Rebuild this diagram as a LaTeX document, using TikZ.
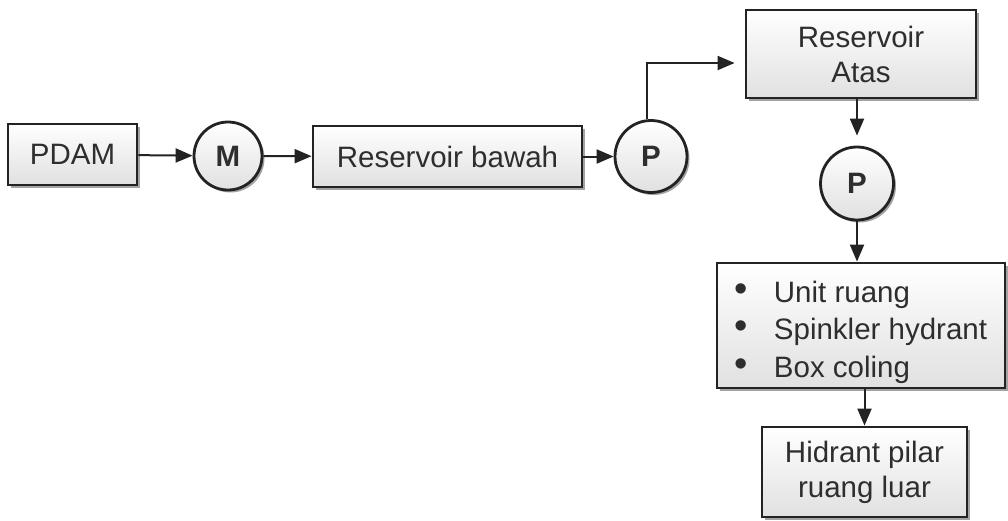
\documentclass[tikz,border=0pt]{standalone}
\usepackage{fontspec}
\setmainfont{Liberation Sans}
\usetikzlibrary{arrows.meta,shadows,positioning}
\definecolor{linec}{HTML}{232323}
\definecolor{textc}{HTML}{2E2E2E}
\tikzset{
  box/.style={draw=linec, line width=2.8pt, top color=white, bottom color=black!12,
    drop shadow={shadow xshift=2.5pt, shadow yshift=-2.5pt, fill=black!45, opacity=0.8},
    text=textc, font=\fontsize{29.5}{35}\selectfont, align=center, inner sep=0pt},
  pump/.style={circle, draw=linec, line width=2.8pt, top color=white, bottom color=black!12,
    drop shadow={shadow xshift=2.5pt, shadow yshift=-2.5pt, fill=black!45, opacity=0.8},
    text=textc, font=\fontsize{29.5}{35}\selectfont\bfseries, inner sep=0pt},
  plain/.style={text=textc, inner sep=0pt},
  arr/.style={draw=linec, line width=2pt, -{Triangle[length=17pt,width=14pt]}}
}
\newcommand{\bul}{\makebox[39pt][l]{\raisebox{1pt}{\fontsize{38}{37.5}\selectfont\textbullet}}}
\begin{document}
\begin{tikzpicture}[x=1pt,y=-1pt]
\useasboundingbox[fill=white] (0,0) rectangle (1008,520);
\node[box, minimum width=129pt, minimum height=61pt] (pdam) at (72.5,154.5) {PDAM};
\node[pump, minimum size=68pt] (m) at (228,156) {M};
\node[box, minimum width=269pt, minimum height=61pt] (rb) at (447.5,156.5) {Reservoir bawah};
\node[pump, minimum size=72pt] (p1) at (651,156.5) {P};
\node[box, minimum width=230pt, minimum height=88pt] (ra) at (861,54) {Reservoir\\Atas};
\node[pump, minimum size=73pt] (p2) at (857,183.5) {P};
\node[box, minimum width=288pt, minimum height=125pt] (bul) at (861,325.5) {};
\node[plain, align=left, font=\fontsize{29.5}{37.5}\selectfont] (bultxt) at ([yshift=-6.5pt]bul.center)
  {\bul Unit ruang\\\bul Spinkler hydrant\\\bul Box coling};
\node[box, minimum width=205pt, minimum height=90pt] (hid) at (864.5,472) {\raisebox{-3pt}{\parbox{200pt}{\centering Hidrant pilar\\ruang luar}}};
\draw[arr] (pdam) -- (m);
\draw[arr] (m) -- (rb);
\draw[arr] (rb) -- (p1);
\draw[arr, shorten >=10pt] ([xshift=-4pt]p1.north) |- ([yshift=-9pt]ra.west);
\draw[arr, shorten >=10pt] (ra.south -| p2) -- (p2);
\draw[arr] (p2) -- (p2 |- bul.north);
\draw[arr] (bul.south -| hid.north) -- (hid);
\end{tikzpicture}
\end{document}
